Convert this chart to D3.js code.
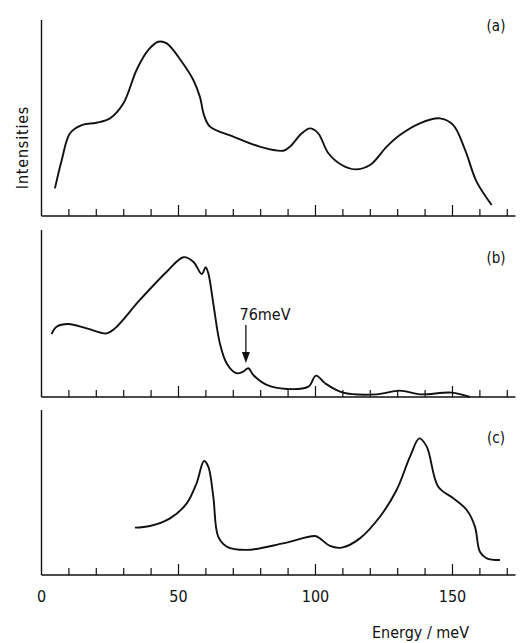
<!DOCTYPE html>
<html lang="en">
<head>
    <meta charset="UTF-8">
    <title>Intensities vs Energy</title>
    <style>
        body { margin: 0; background: #fff; }
        svg text { font-family: "DejaVu Sans Condensed", "DejaVu Sans", sans-serif; fill: #111; }
    </style>
</head>
<body>
    <div id="chart"></div>
    <script src="https://d3js.org/d3.v7.min.js"></script>
    <script>
        // energy (meV) / intensity (arbitrary, 0-100 of panel height)
        const energyA = [4.9, 7.4, 10.4, 14.7, 20.1, 25, 29.9, 34.7, 39, 42.6, 45.7, 51.2, 55.4, 57.8, 59.3, 61.5, 70, 79.7, 88.2, 90.7, 95, 98, 101, 104.7, 109.6, 114.4, 119.9, 126, 130.8, 138.1, 145.4, 150.3, 154.6, 158.8, 164.3];
        const intensA = [14.1, 28.6, 42.2, 46.4, 47.6, 49.8, 57.5, 74.5, 84.7, 88.9, 88.1, 78.7, 69.4, 60.9, 51.5, 45.6, 40.5, 35.4, 33.3, 35.4, 42.2, 44.7, 42.2, 32, 26, 23.8, 26, 35.4, 41.3, 47.3, 49.8, 46.4, 33.7, 17.5, 5.6];

        const energyB = [3.7, 5.5, 9.8, 16.5, 23.8, 26.8, 35.9, 45.7, 51.8, 55.4, 58.5, 59.9, 60.9, 62.7, 65.1, 67.6, 71.2, 73.6, 75.5, 77.3, 82.2, 89.5, 97.4, 100.2, 103.5, 110.1, 122.3, 130.8, 138.1, 149.7, 156.4];
        const intensB = [37.7, 42.1, 43.7, 41.1, 38.1, 41.1, 58.1, 75, 83.7, 81, 73.6, 77.7, 74, 56, 32.1, 20.1, 14.2, 15.2, 17.2, 13.2, 7.2, 4.8, 6.2, 12.8, 8.2, 2.6, 1.6, 3.8, 1.6, 2.6, 0];

        const energyC = [34.1, 39.6, 46.9, 53, 56.6, 59.3, 60.9, 62.7, 64.5, 67.6, 74.9, 88.2, 99.8, 101.6, 105.3, 109.6, 116.2, 123.5, 129.6, 134.5, 137.9, 140.6, 144.8, 150.3, 155.2, 158.2, 160, 162.5, 167.3];
        const intensC = [28.7, 29.7, 34.3, 43.4, 55.6, 69.1, 65.6, 47.5, 23.2, 17.2, 15.2, 19.2, 23.6, 22.2, 17.6, 16.6, 22.2, 35.3, 51.5, 71.7, 82.8, 77.8, 53.5, 46.5, 39.4, 29.3, 14.1, 10.1, 9.1];

        const panelLabels = ["(a)", "(b)", "(c)"];
        const tickValues = d3.range(0, 171, 10);
        const tickLabels = [0, 50, 100, 150];
        const marker = { energy: 74.6, label: "76meV" };

        const width = 523, height = 643;
        const svg = d3.select("#chart").append("svg")
            .attr("width", width)
            .attr("height", height);

        const x = d3.scaleLinear().domain([0, 173]).range([41.5, 515.5]);

        // vertical extent of each panel: bottom axis and top of y axis
        const panels = [
            { e: energyA, v: intensA, bottom: 216, top: 20, labelY: 31 },
            { e: energyB, v: intensB, bottom: 397, top: 230, labelY: 263 },
            { e: energyC, v: intensC, bottom: 575, top: 410, labelY: 443 }
        ];

        panels.forEach((p, i) => {
            const y = d3.scaleLinear().domain([0, 100]).range([p.bottom, p.top]);
            const g = svg.append("g");

            // y axis line
            g.append("line")
                .attr("x1", x(0)).attr("x2", x(0))
                .attr("y1", p.bottom).attr("y2", p.top)
                .attr("stroke", "#111").attr("stroke-width", 1.4);

            // x axis with inward ticks
            g.append("line")
                .attr("x1", x(0)).attr("x2", x.range()[1])
                .attr("y1", p.bottom).attr("y2", p.bottom)
                .attr("stroke", "#111").attr("stroke-width", 1.4);

            g.selectAll(".tick")
                .data(tickValues.filter(d => d > 0))
                .enter().append("line")
                .attr("x1", d => x(d)).attr("x2", d => x(d))
                .attr("y1", p.bottom)
                .attr("y2", d => p.bottom - (d % 50 === 0 ? 11 : 7))
                .attr("stroke", "#111").attr("stroke-width", 1.2);

            const line = d3.line()
                .x(d => x(d[0]))
                .y(d => y(d[1]))
                .curve(d3.curveCatmullRom.alpha(0.5));

            g.append("path")
                .datum(p.e.map((e, k) => [e, p.v[k]]))
                .attr("d", line)
                .attr("fill", "none")
                .attr("stroke", "#111")
                .attr("stroke-width", 1.9);

            g.append("text")
                .attr("x", 496)
                .attr("y", p.labelY)
                .attr("text-anchor", "middle")
                .attr("font-size", 15)
                .text(panelLabels[i]);

            if (i === 1) {
                const ax = x(marker.energy);
                g.append("text")
                    .attr("x", 265).attr("y", 320)
                    .attr("text-anchor", "middle")
                    .attr("font-size", 16)
                    .text(marker.label);
                g.append("line")
                    .attr("x1", ax).attr("x2", ax)
                    .attr("y1", 325).attr("y2", 356)
                    .attr("stroke", "#111").attr("stroke-width", 1.3);
                g.append("path")
                    .attr("d", `M${ax - 4},${352} L${ax + 4},${352} L${ax},${363} Z`)
                    .attr("fill", "#111");
            }

            if (i === 2) {
                g.selectAll(".ticklabel")
                    .data(tickLabels)
                    .enter().append("text")
                    .attr("x", d => x(d))
                    .attr("y", 602)
                    .attr("text-anchor", "middle")
                    .attr("font-size", 16)
                    .text(d => d);
            }
        });

        svg.append("text")
            .attr("x", 420.5).attr("y", 638)
            .attr("text-anchor", "middle")
            .attr("font-size", 16)
            .text("Energy / meV");

        svg.append("text")
            .attr("transform", "translate(28,147.5) rotate(-90)")
            .attr("text-anchor", "middle")
            .attr("font-size", 16)
            .attr("letter-spacing", 0.8)
            .text("Intensities");
    </script>
</body>
</html>
